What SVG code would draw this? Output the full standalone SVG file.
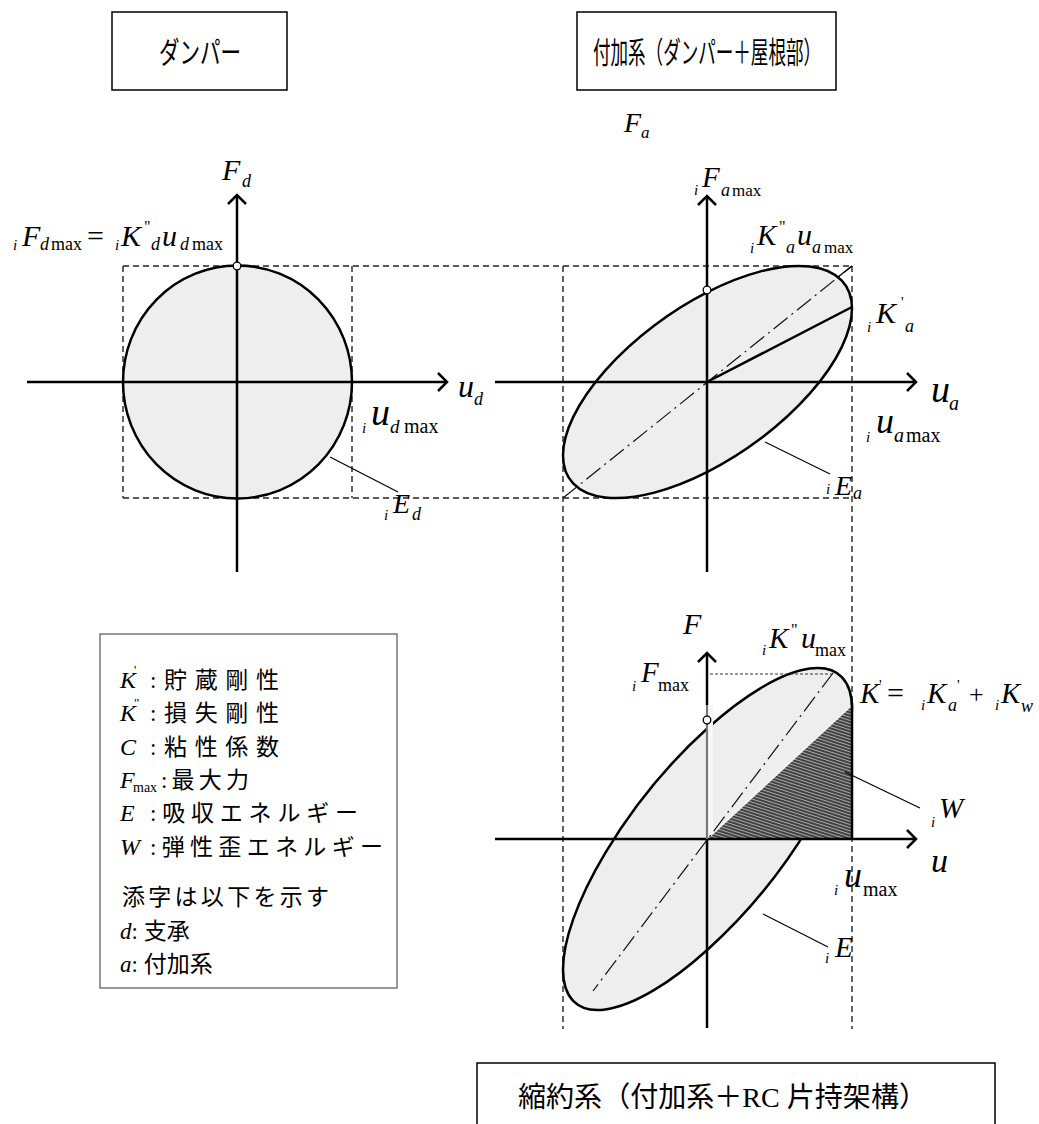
<svg xmlns="http://www.w3.org/2000/svg" width="1039" height="1124" viewBox="0 0 1039 1124">
<style>
.ax{stroke:#000;stroke-width:2.5;fill:none}
.el{fill:#eeeeee;stroke:#000;stroke-width:2.5}
.dash{stroke:#222;stroke-width:1.4;stroke-dasharray:6 4;fill:none}
.dd{stroke:#111;stroke-width:1.2;stroke-dasharray:18 5 2 5;fill:none}
.lead{stroke:#000;stroke-width:1.2;fill:none}
.box{fill:#fff;stroke:#000;stroke-width:1.5}
.lbox{fill:#fff;stroke:#555;stroke-width:1.2}
.it{font-family:"Liberation Serif","Times New Roman",serif;font-style:italic;fill:#000}
.nm{font-style:normal}
.jp{font-family:"Liberation Serif","Noto Sans CJK JP",serif;fill:#000}
.dot{fill:#fff;stroke:#000;stroke-width:1.3}
</style>
<defs>
<marker id="arr" markerUnits="userSpaceOnUse" markerWidth="24" markerHeight="24" viewBox="-12 -12 24 24" refX="0" refY="0" orient="auto" overflow="visible">
<path d="M-9,-9 L0,0 L-9,9" fill="none" stroke="#000" stroke-width="2.5"/>
</marker>
<pattern id="hatch" width="3" height="3" patternUnits="userSpaceOnUse" patternTransform="rotate(18)">
<rect width="3" height="3" fill="#a8a8a8"/>
<line x1="0" y1="1" x2="3" y2="1" stroke="#2e2e2e" stroke-width="1.7"/>
</pattern>
<clipPath id="tri"><polygon points="707,839 852,705 852,839"/></clipPath>
</defs>

<!-- title boxes -->
<g id="box-damper">
<rect class="box" x="112" y="12" width="175" height="78"/>
<text class="jp" x="159" y="63" font-size="30" textLength="82" lengthAdjust="spacingAndGlyphs">ダンパー</text>
</g>
<g id="box-added">
<rect class="box" x="577" y="12" width="259" height="78"/>
<text class="jp" x="593" y="63" font-size="30" textLength="228" lengthAdjust="spacingAndGlyphs">付加系（ダンパー＋屋根部）</text>
</g>
<g id="box-reduced">
<rect class="box" x="477" y="1063" width="518" height="80"/>
<text class="jp" x="518" y="1107" font-size="28" textLength="409" lengthAdjust="spacingAndGlyphs">縮約系（付加系＋RC 片持架構）</text>
</g>

<!-- projection lines -->
<g id="connectors">
<line class="dash" x1="123" y1="266" x2="852" y2="266"/>
<line class="dash" x1="123" y1="498" x2="852" y2="498"/>
<line class="dash" x1="123" y1="266" x2="123" y2="498"/>
<line class="dash" x1="352" y1="266" x2="352" y2="498"/>
<line class="dash" x1="563" y1="266" x2="563" y2="1029"/>
<line class="dash" x1="852" y1="266" x2="852" y2="1029"/>
</g>

<!-- damper plot -->
<g id="plot-damper">
<ellipse class="el" cx="237.5" cy="382" rx="114.5" ry="116.5"/>
<line class="ax" x1="27" y1="382" x2="447" y2="382" marker-end="url(#arr)"/>
<line class="ax" x1="237" y1="572" x2="237" y2="195" marker-end="url(#arr)"/>
<circle class="dot" cx="237" cy="266" r="3.8"/>
<line class="lead" x1="330" y1="457" x2="398" y2="492"/>
<text class="it"><tspan x="222" y="180" font-size="30">F</tspan><tspan x="242" y="187" font-size="18">d</tspan></text>
<text class="it"><tspan x="13" y="250" font-size="15">i</tspan><tspan x="22" y="246" font-size="30">F</tspan><tspan x="40" y="250" font-size="18">d</tspan><tspan class="nm" x="51" y="250" font-size="18">max</tspan><tspan class="nm" x="87" y="246" font-size="30">=</tspan><tspan x="115" y="250" font-size="15">i</tspan><tspan x="121" y="246" font-size="30">K</tspan><tspan class="nm" x="144" y="232" font-size="16">"</tspan><tspan x="151" y="250" font-size="18">d</tspan><tspan x="162" y="246" font-size="30">u</tspan><tspan x="180" y="250" font-size="18">d</tspan><tspan class="nm" x="192" y="250" font-size="18">max</tspan></text>
<text class="it"><tspan x="458" y="397" font-size="32">u</tspan><tspan x="474" y="405" font-size="18">d</tspan></text>
<text class="it"><tspan x="362" y="433" font-size="15">i</tspan><tspan x="371" y="425" font-size="38">u</tspan><tspan x="390" y="433" font-size="19">d</tspan><tspan class="nm" x="404" y="433" font-size="20">max</tspan></text>
<text class="it"><tspan x="384" y="520" font-size="15">i</tspan><tspan x="393" y="513" font-size="28">E</tspan><tspan x="412" y="520" font-size="18">d</tspan></text>
</g>

<!-- added system plot -->
<g id="plot-added">
<circle class="el" r="1" transform="matrix(144.5,-73.4,0,-89.9,707.5,382)" vector-effect="non-scaling-stroke"/>
<line class="dd" x1="563" y1="498" x2="852" y2="266"/>
<line class="lead" x1="838" y1="277" x2="852" y2="266"/>
<line class="ax" x1="707" y1="382" x2="852" y2="307"/>
<line class="ax" x1="495" y1="382" x2="916" y2="382" marker-end="url(#arr)"/>
<line class="ax" x1="707" y1="572" x2="707" y2="196" marker-end="url(#arr)"/>
<circle class="dot" cx="707" cy="290" r="3.8"/>
<line class="lead" x1="765" y1="442" x2="830" y2="474"/>
<text class="it"><tspan x="624" y="132" font-size="28">F</tspan><tspan x="641" y="138" font-size="17">a</tspan></text>
<text class="it"><tspan x="694" y="195" font-size="15">i</tspan><tspan x="702" y="187" font-size="29">F</tspan><tspan x="721" y="196" font-size="18">a</tspan><tspan class="nm" x="732" y="196" font-size="17">max</tspan></text>
<text class="it"><tspan x="750" y="253" font-size="15">i</tspan><tspan x="757" y="245" font-size="29">K</tspan><tspan class="nm" x="779" y="232" font-size="16">"</tspan><tspan x="786" y="253" font-size="18">a</tspan><tspan x="797" y="245" font-size="30">u</tspan><tspan x="812" y="253" font-size="18">a</tspan><tspan class="nm" x="824" y="253" font-size="17">max</tspan></text>
<text class="it"><tspan x="867" y="332" font-size="15">i</tspan><tspan x="876" y="323" font-size="30">K</tspan><tspan class="nm" x="901" y="307" font-size="15">'</tspan><tspan x="905" y="332" font-size="18">a</tspan></text>
<text class="it"><tspan x="931" y="402" font-size="38">u</tspan><tspan x="949" y="410" font-size="20">a</tspan></text>
<text class="it"><tspan x="866" y="442" font-size="15">i</tspan><tspan x="876" y="433" font-size="36">u</tspan><tspan x="894" y="442" font-size="20">a</tspan><tspan class="nm" x="906" y="442" font-size="20">max</tspan></text>
<text class="it"><tspan x="826" y="494" font-size="15">i</tspan><tspan x="835" y="495" font-size="28">E</tspan><tspan x="853" y="499" font-size="18">a</tspan></text>
</g>

<!-- reduced system plot -->
<g id="plot-reduced">
<circle class="el" r="1" transform="matrix(144.5,-130.3,0,-110.7,707.5,839)" vector-effect="non-scaling-stroke"/>
<rect x="708" y="705" width="5" height="134" fill="#f8f8f8"/>
<polygon points="707,839 852,705 852,839" fill="url(#hatch)"/>
<circle r="1" transform="matrix(144.5,-130.3,0,-110.7,707.5,839)" vector-effect="non-scaling-stroke" fill="none" stroke="#222" stroke-width="1.8" clip-path="url(#tri)"/>
<line x1="707" y1="839" x2="852" y2="705" stroke="#f4f4f4" stroke-width="1.6"/>
<line class="ax" x1="852" y1="703" x2="852" y2="839"/>
<line class="dd" x1="833" y1="673" x2="593" y2="991"/>
<line x1="710" y1="674" x2="833" y2="674" stroke="#333" stroke-width="1.1" stroke-dasharray="3 2"/>
<line class="ax" x1="495" y1="839" x2="916" y2="839" marker-end="url(#arr)"/>
<line class="ax" x1="707" y1="705" x2="707" y2="653" marker-end="url(#arr)"/>
<line x1="707" y1="705" x2="707" y2="839" stroke="#777" stroke-width="2.2"/>
<line class="ax" x1="707" y1="839" x2="707" y2="1028"/>
<circle class="dot" cx="707" cy="720" r="3.8"/>
<line class="lead" x1="845" y1="772" x2="920" y2="808"/>
<line class="lead" x1="763" y1="914" x2="828" y2="947"/>
<text class="it"><tspan x="683" y="634" font-size="30">F</tspan></text>
<text class="it"><tspan x="632" y="691" font-size="15">i</tspan><tspan x="641" y="682" font-size="29">F</tspan><tspan class="nm" x="658" y="691" font-size="18">max</tspan></text>
<text class="it"><tspan x="762" y="655" font-size="15">i</tspan><tspan x="769" y="648" font-size="29">K</tspan><tspan class="nm" x="791" y="635" font-size="16">"</tspan><tspan x="801" y="648" font-size="30">u</tspan><tspan class="nm" x="815" y="656" font-size="18">max</tspan></text>
<text class="it"><tspan x="860" y="703" font-size="29">K</tspan><tspan class="nm" x="879" y="690" font-size="15">'</tspan><tspan class="nm" x="887" y="703" font-size="30">=</tspan><tspan x="921" y="710" font-size="15">i</tspan><tspan x="927" y="703" font-size="29">K</tspan><tspan x="948" y="711" font-size="18">a</tspan><tspan class="nm" x="957" y="690" font-size="15">'</tspan><tspan class="nm" x="969" y="703" font-size="26">+</tspan><tspan x="995" y="710" font-size="15">i</tspan><tspan x="1001" y="703" font-size="29">K</tspan><tspan x="1021" y="712" font-size="18">w</tspan></text>
<text class="it"><tspan x="931" y="827" font-size="15">i</tspan><tspan x="939" y="818" font-size="29">W</tspan></text>
<text class="it"><tspan x="931" y="872" font-size="34">u</tspan></text>
<text class="it"><tspan x="834" y="895" font-size="15">i</tspan><tspan x="844" y="887" font-size="36">u</tspan><tspan class="nm" x="863" y="896" font-size="20">max</tspan></text>
<text class="it"><tspan x="825" y="963" font-size="15">i</tspan><tspan x="835" y="957" font-size="29">E</tspan></text>
</g>

<!-- legend -->
<g id="legend">
<rect class="lbox" x="100" y="634" width="297" height="354"/>
<text class="it" x="120" y="688" font-size="24">K<tspan class="nm" x="134" y="674" font-size="13">'</tspan></text>
<text class="jp" x="150" y="688" font-size="23" textLength="129" lengthAdjust="spacing">:貯蔵剛性</text>
<text class="it" x="120" y="721" font-size="24">K<tspan class="nm" x="134" y="707" font-size="13">"</tspan></text>
<text class="jp" x="150" y="721" font-size="23" textLength="129" lengthAdjust="spacing">:損失剛性</text>
<text class="it" x="120" y="755" font-size="24">C</text>
<text class="jp" x="150" y="755" font-size="23" textLength="129" lengthAdjust="spacing">:粘性係数</text>
<text class="it" x="120" y="788" font-size="24">F<tspan class="nm" x="133" y="792" font-size="14">max</tspan></text>
<text class="jp" x="161" y="788" font-size="23" textLength="88" lengthAdjust="spacing">:最大力</text>
<text class="it" x="120" y="821" font-size="24">E</text>
<text class="jp" x="150" y="821" font-size="23" textLength="208" lengthAdjust="spacing">:吸収エネルギー</text>
<text class="it" x="120" y="855" font-size="24">W</text>
<text class="jp" x="150" y="855" font-size="23" textLength="233" lengthAdjust="spacing">:弾性歪エネルギー</text>
<text class="jp" x="122" y="905" font-size="23" textLength="207" lengthAdjust="spacing">添字は以下を示す</text>
<text class="jp" x="120" y="939" font-size="23"><tspan class="it">d</tspan>: 支承</text>
<text class="jp" x="120" y="972" font-size="23"><tspan class="it">a</tspan>: 付加系</text>
</g>
</svg>
